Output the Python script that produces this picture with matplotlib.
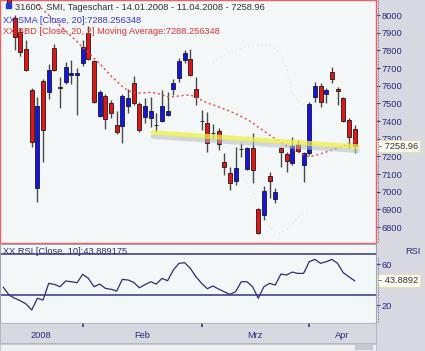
import numpy as np
import matplotlib
matplotlib.use("Agg")
import matplotlib.pyplot as plt
from matplotlib.lines import Line2D
from matplotlib.patches import Rectangle

plt.rcParams['font.family'] = ['Liberation Sans', 'DejaVu Sans']

# SMI daily candles 14.01.2008 - 11.04.2008 (x = trading day index)
opens = [8150, 8110, 7983, 7904, 7808, 7576, 7022, 7627, 7564, 7813,
         7593, 7621, 7658, 7661, 7728, 7898, 7740, 7429, 7542, 7502,
         7378, 7372, 7485, 7615, 7497, 7423, 7417, 7376, 7400, 7434,
         7581, 7644, 7745, 7751, 7581, 7402, 7389, 7335, 7344, 7169,
         7106, 7061, 7240, 7129, 7248, 6903, 6869, 7089, 6959, 7248,
         7214, 7163, 7270, 7152, 7219, 7536, 7598, 7553, 7678, 7581,
         7531, 7406, 7355]
highs = [8170, 8120, 8000, 7926, 7859, 7587, 7536, 7640, 7723, 7836,
         7649, 7734, 7745, 7700, 7859, 7940, 7745, 7576, 7553, 7519,
         7457, 7553, 7581, 7655, 7508, 7531, 7536, 7446, 7576, 7564,
         7638, 7757, 7802, 7808, 7649, 7463, 7451, 7383, 7361, 7219,
         7140, 7253, 7276, 7253, 7333, 6910, 7033, 7112, 7022, 7253,
         7225, 7310, 7293, 7225, 7508, 7621, 7615, 7587, 7706, 7593,
         7536, 7417, 7378]
lows = [8100, 8040, 7802, 7768, 7685, 7253, 6942, 7169, 7525, 7685,
        7474, 7610, 7610, 7434, 7712, 7745, 7502, 7423, 7355, 7417,
        7327, 7276, 7446, 7491, 7338, 7389, 7367, 7338, 7395, 7430,
        7548, 7621, 7728, 7655, 7491, 7350, 7225, 7300, 7236, 7095,
        7010, 7038, 7197, 7123, 7050, 6760, 6841, 6965, 6937, 7140,
        7112, 7152, 7225, 7055, 7208, 7508, 7480, 7502, 7615, 7491,
        7395, 7248, 7219]
closes = [8120, 8060, 7876, 7791, 7689, 7282, 7485, 7350, 7689, 7689,
          7585, 7706, 7672, 7672, 7819, 7751, 7508, 7564, 7412, 7446,
          7338, 7542, 7531, 7502, 7350, 7485, 7457, 7380, 7485, 7457,
          7615, 7740, 7785, 7661, 7536, 7398, 7276, 7330, 7270, 7140,
          7050, 7135, 7244, 7248, 7123, 6767, 7005, 7061, 6999, 7225,
          7174, 7259, 7231, 7219, 7497, 7598, 7508, 7576, 7638, 7570,
          7400, 7310, 7258.96]

nan = float('nan')
sma20 = [nan] * 6 + [
    8060, 8030, 8000, 7970, 7940, 7910, 7880, 7850, 7815, 7790,
    7755, 7725, 7690, 7655, 7625, 7595, 7572, 7562, 7558, 7560,
    7563, 7558, 7548, 7538, 7538, 7542, 7546, 7548, 7534, 7518,
    7502, 7492, 7480, 7468, 7455, 7442, 7425, 7410, 7390, 7365,
    7345, 7320, 7300, 7280, 7260, 7242, 7225, 7210, 7198, 7205,
    7215, 7225, 7237, 7248, 7258, 7272, 7288.256348]

rsi10 = [37.4, 29.8, 26.6, 24.2, 21.0, 15.1, 26.6, 24.9, 41.3, 40.3,
         38.0, 43.6, 42.9, 41.9, 50.2, 46.2, 38.0, 40.6, 36.4, 35.5,
         33.7, 45.2, 44.6, 42.3, 37.0, 40.0, 42.9, 40.6, 46.2, 43.9,
         54.4, 61.0, 61.6, 56.1, 47.8, 41.3, 36.0, 38.7, 35.7, 33.0,
         30.5, 33.1, 42.9, 42.9, 38.0, 26.6, 38.0, 41.3, 39.6, 50.5,
         49.5, 52.4, 51.1, 51.1, 62.6, 64.9, 61.0, 62.6, 64.9, 61.0,
         51.8, 47.8, 43.889175]

# faint bollinger band pieces that are visible
bb_up_idx = list(range(37, 54))
bb_up = [7730, 7755, 7775, 7790, 7802, 7812, 7822, 7828, 7830, 7832,
         7830, 7810, 7775, 7700, 7560, 7510, 7495]
bb_lo_idx = list(range(42, 55))
bb_lo = [7120, 7050, 7000, 6914, 6860, 6800, 6773, 6767, 6785, 6820,
         6858, 6875, 6886]

# hand drawn support line
trend_idx = [26.4, 62.5]
trend_val = [7335, 7255]

month_starts = [14, 35, 54]
month_labels = ['2008', 'Feb', 'Mrz', 'Apr']
price_ticks = list(range(6800, 8001, 100))
rsi_ticks = [20, 40, 60]
rsi_levels = [30, 70]

W, H = 425, 351
fig = plt.figure(figsize=(W / 100, H / 100), dpi=100, facecolor='#d8d8e0')


def panel(x0, y0, x1, y1):
    return fig.add_axes([x0 / W, 1 - y1 / H, (x1 - x0) / W, (y1 - y0) / H])


ax = panel(0, 0, 375.5, 242.5)
rs = panel(0, 243.5, 375.5, 322.5)
dx = panel(0, 322.5, 375.5, 342.5)
sb = panel(0, 343.5, 375.5, 351)

xlim = (-0.6, 65.7)
navy = '#2b2b80'
fs = 6.7

# --- price panel
ax.set_facecolor('#f4f7f7')
x = np.arange(len(closes))
o = np.array(opens, dtype=float)
c = np.array(closes, dtype=float)
cols = np.where(c >= o, '#1414e6', '#e61414')
ax.vlines(x, lows, highs, color='#4a4a4a', lw=1.0, zorder=2)
ax.bar(x, c - o, bottom=o, width=0.7, color=cols, edgecolor='#1a1a1a',
       linewidth=0.6, zorder=3)

ax.plot(bb_up_idx, bb_up, color='#d6eaef', lw=0.9, ls=(0, (1, 2.5)), zorder=1)
ax.plot(bb_lo_idx, bb_lo, color='#d6eaef', lw=0.9, ls=(0, (1, 2.5)), zorder=1)
ax.plot(x, sma20, color='#ee4444', lw=1.0, ls=(0, (1.5, 2)), zorder=4)

ax.plot(trend_idx, np.array(trend_val) - 22, color='#b0bccb', lw=3.5,
        alpha=0.55, solid_capstyle='round', zorder=4)
ax.plot(trend_idx, trend_val, color='#eef04a', lw=3.5, alpha=0.75,
        solid_capstyle='round', zorder=5)

ax.set_xlim(*xlim)
ax.set_ylim(6713, 8085)
ax.set_xticks([])
ax.yaxis.tick_right()
ax.set_yticks(price_ticks)
ax.tick_params(axis='y', direction='out', length=3, width=0.8, color='#404080',
               pad=1.5, labelsize=fs, labelcolor=navy)
for s in ax.spines.values():
    s.set_color('#f06060')
    s.set_linewidth(1.0)

ax.add_patch(Rectangle((6 / 375.5, 1 - 8 / 242.5), 5 / 375.5, 5 / 242.5,
                       transform=ax.transAxes, color='#1a3ae0', zorder=10))
ax.text(15 / 375.5, 1 - 7 / 242.5,
        f"31600  SMI, Tageschart - 14.01.2008 - 11.04.2008 - {closes[-1]:.2f}",
        transform=ax.transAxes, fontsize=fs, color='#333333', va='center',
        zorder=10)
ax.text(3 / 375.5, 1 - 20.5 / 242.5, f"XX SMA [Close, 20]:{sma20[-1]:.6f}",
        transform=ax.transAxes, fontsize=fs, color='#3434ee', va='center',
        zorder=10)
ax.text(3 / 375.5, 1 - 32 / 242.5,
        f"XX BBD [Close, 20, 2] Moving Average:{sma20[-1]:.6f}",
        transform=ax.transAxes, fontsize=fs, color='#ea3030', va='center',
        zorder=10)

ax.annotate(f"- {closes[-1]:.2f}", xy=(1, closes[-1]),
            xycoords=('axes fraction', 'data'), xytext=(2.5, 0),
            textcoords='offset points', va='center', ha='left', fontsize=fs,
            color='#333333', annotation_clip=False,
            bbox=dict(boxstyle='square,pad=0.2', fc='#fbfbf4', ec='#e2e2b4',
                      lw=0.8))

# --- RSI panel
rs.set_facecolor('#f4f7f7')
rs.plot(x, rsi10, color='#2e2e78', lw=0.9)
for lvl in rsi_levels:
    rs.axhline(lvl, color='#34348a', lw=1.1)
rs.set_xlim(*xlim)
rs.set_ylim(2.8, 80.5)
rs.set_xticks([])
rs.yaxis.tick_right()
rs.set_yticks(rsi_ticks)
rs.tick_params(axis='y', direction='out', length=3, width=0.8, color='#404080',
               pad=1.5, labelsize=fs, labelcolor=navy)
for s in rs.spines.values():
    s.set_color('#a4a4b4')
    s.set_linewidth(0.8)
rs.text(3 / 375.5, 0.896, f"XX RSI [Close, 10]:{rsi10[-1]:.6f}",
        transform=rs.transAxes, fontsize=fs, color='#303068', va='center')
rs.annotate(f"- {rsi10[-1]:.4f}", xy=(1, rsi10[-1]),
            xycoords=('axes fraction', 'data'), xytext=(2.5, 0),
            textcoords='offset points', va='center', ha='left', fontsize=fs,
            color='#333333', annotation_clip=False,
            bbox=dict(boxstyle='square,pad=0.2', fc='#fbfbf4', ec='#e2e2b4',
                      lw=0.8))
fig.text(421 / W, 1 - 251 / H, 'RSI', ha='right', va='center', fontsize=fs,
         color=navy)

# dotted scale lines on the right
fig.add_artist(Line2D([378 / W, 378 / W], [1 - 242 / H, 1], color='#5a5aa0',
                      lw=0.7, ls=(0, (1, 1.5))))
fig.add_artist(Line2D([378 / W, 378 / W], [1 - 322 / H, 1 - 257 / H],
                      color='#5a5aa0', lw=0.7, ls=(0, (1, 1.5))))

# --- date axis
dx.set_facecolor('#d8d8e0')
dx.set_xlim(*xlim)
dx.set_ylim(0, 1)
dx.set_yticks([])
dx.set_xticks(month_starts)
dx.tick_params(axis='x', direction='in', top=True, bottom=False, length=3,
               width=1.2, color='#303080', labelbottom=False)
bounds = [xlim[0]] + month_starts + [xlim[1]]
for i, lab in enumerate(month_labels):
    dx.text((bounds[i] + bounds[i + 1]) / 2, 0.33, lab, ha='center',
            va='center', fontsize=fs, color=navy)
for s in dx.spines.values():
    s.set_color('#b0b0bc')
    s.set_linewidth(0.6)

# --- scroll strip
sb.set_facecolor('#f0f0f3')
sb.set_xticks([])
sb.set_yticks([])
for s in sb.spines.values():
    s.set_color('#c0c0c8')
    s.set_linewidth(0.6)
sb.add_patch(Rectangle((0.945, 0.3), 0.045, 0.5, transform=sb.transAxes,
                       color='#c8c8d0'))

fig.savefig('out.png', dpi=100, facecolor=fig.get_facecolor())
